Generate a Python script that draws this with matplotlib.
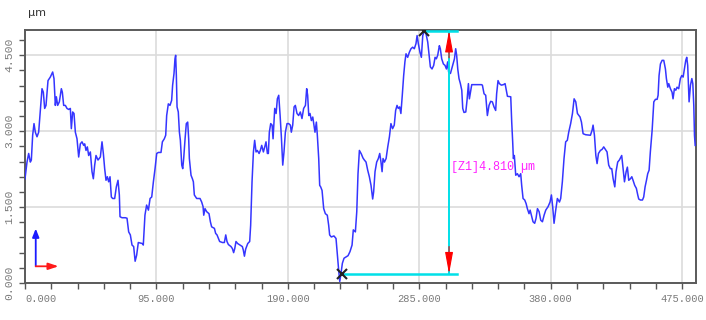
import matplotlib
matplotlib.use("Agg")
import matplotlib.pyplot as plt
from matplotlib.ticker import MultipleLocator, FixedLocator

# ---------------- data (profile, µm) ----------------
pos_um = [
    0, 1.45, 2.65, 3.86, 4.58, 5.54, 6.51, 7.47, 8.68, 9.88,
    11.08, 12.29, 13.25, 14.22, 15.18, 16.63, 18.31, 20.0, 20.96, 21.93,
    22.65, 23.61, 24.82, 26.27, 26.99, 27.95, 29.16, 30.36, 31.57, 32.77,
    33.49, 34.46, 35.42, 36.39, 37.59, 38.8, 40.0, 41.2, 42.41, 43.13,
    44.1, 45.06, 46.02, 47.23, 48.43, 49.4, 50.36, 51.33, 52.77, 54.46,
    55.66, 56.63, 57.59, 58.55, 59.52, 60.48, 61.45, 62.41, 63.37, 64.82,
    66.02, 67.23, 68.19, 68.67, 70.12, 72.53, 73.73, 74.94, 76.14, 77.35,
    78.55, 79.6, 80.7, 81.9, 84.8, 85.5, 86.7, 87.9, 89.2, 90.4,
    91.6, 92.8, 94.0, 95.2, 96.4, 98.3, 99.3, 100.7, 101.7, 102.4,
    103.6, 104.8, 106.0, 106.7, 107.7, 108.4, 108.9, 109.4, 109.9, 110.8,
    111.6, 112.3, 113.3, 114.0, 114.7, 115.7, 116.6, 117.6, 118.3, 118.8,
    120.0, 121.0, 121.7, 122.4, 124.1, 126.5, 127.7, 128.7, 129.2, 130.1,
    131.3, 133.0, 134.0, 134.9, 136.9, 137.8, 138.8, 139.8, 140.7, 142.7,
    144.1, 145.1, 146.0, 147.0, 148.9, 149.9, 150.8, 151.6, 152.5, 153.7,
    155.4, 157.1, 157.8, 158.6, 159.5, 161.0, 162.4, 163.1, 164.1, 165.1,
    166.0, 167.0, 167.9, 169.2, 170.1, 171.1, 172.3, 173.3, 174.2, 175.2,
    175.9, 176.6, 177.6, 178.6, 179.3, 180.5, 181.5, 182.4, 183.4, 184.4,
    185.3, 186.3, 187.2, 188.2, 189.4, 190.6, 191.8, 192.5, 193.5, 194.5,
    195.4, 196.6, 197.8, 199.0, 200.2, 201.4, 202.7, 203.6, 204.3, 205.1,
    206.0, 207.0, 208.0, 208.7, 209.6, 210.6, 211.3, 212.3, 213.0, 213.7,
    214.7, 215.9, 217.1, 218.5, 219.5, 220.2, 221.4, 223.3, 224.8, 225.8,
    226.7, 227.5, 228.4, 229.4, 230.6, 232.3, 233.5, 234.9, 236.4, 237.3,
    238.8, 239.8, 240.7, 241.7, 243.1, 244.3, 245.3, 246.5, 247.7, 248.9,
    250.1, 251.3, 252.0, 253.0, 254.2, 255.4, 256.4, 257.3, 258.1, 258.8,
    259.8, 261.0, 262.2, 263.4, 264.5, 265.7, 266.9, 267.9, 268.9, 269.8,
    270.8, 271.7, 272.7, 273.7, 274.6, 275.4, 276.6, 277.8, 279.0, 280.2,
    281.4, 282.6, 283.4, 284.3, 285.5, 286.5, 287.5, 288.7, 289.9, 291.1,
    292.3, 293.0, 294.2, 295.4, 296.4, 297.3, 298.3, 299.5, 300.2, 301.2,
    302.4, 303.6, 304.6, 305.5, 306.2, 307.5, 308.4, 309.4, 310.4, 311.3,
    312.0, 312.8, 313.7, 314.7, 315.7, 316.4, 317.3, 318.6, 319.5, 320.5,
    321.2, 322.0, 322.9, 326.0, 329.9, 330.6, 331.8, 333.0, 334.2, 335.4,
    336.6, 337.8, 339.0, 340.2, 340.9, 341.9, 342.9, 344.3, 345.8, 347.0,
    347.9, 348.7, 351.1, 351.8, 352.5, 353.0, 353.7, 354.7, 355.9, 357.1,
    358.3, 359.0, 360.0, 361.2, 362.2, 363.1, 364.3, 365.1, 366.0, 367.2,
    368.4, 369.4, 370.4, 371.6, 372.8, 374.0, 375.2, 376.4, 378.1, 379.5,
    380.5, 381.4, 382.4, 383.6, 384.8, 386.3, 387.2, 388.4, 389.6, 390.8,
    392.0, 393.0, 394.4, 395.7, 396.9, 398.1, 399.3, 401.2, 402.2, 403.4,
    405.3, 408.7, 409.9, 410.6, 411.6, 412.6, 413.5, 414.5, 415.9, 417.1,
    418.3, 419.5, 420.7, 421.9, 423.1, 424.1, 425.1, 426.3, 427.2, 428.4,
    429.6, 431.3, 432.3, 433.3, 434.5, 435.4, 436.4, 437.6, 438.6, 439.5,
    440.7, 441.9, 442.9, 443.6, 444.8, 446.3, 447.2, 448.2, 449.2, 450.1,
    451.1, 452.0, 453.3, 454.5, 455.7, 456.9, 457.6, 458.3, 459.3, 460.5,
    461.7, 462.9, 463.6, 464.6, 465.3, 466.5, 467.7, 468.4, 469.4, 470.4,
    471.3, 472.5, 473.7, 474.7, 475.7, 476.6, 477.6, 478.3, 479.0, 480.0,
    481.0, 482.0, 482.7, 483.4, 483.9, 484.4,
]
height_um = [
    2.06, 2.39, 2.56, 2.39, 2.43, 2.92, 3.15, 2.98, 2.89, 2.98,
    3.41, 3.84, 3.77, 3.45, 3.51, 4.00, 4.07, 4.17, 4.04, 3.51,
    3.68, 3.51, 3.58, 3.84, 3.77, 3.51, 3.51, 3.45, 3.43, 3.45,
    3.05, 3.38, 3.35, 2.98, 2.85, 2.49, 2.75, 2.79, 2.72, 2.75,
    2.62, 2.69, 2.52, 2.59, 2.20, 2.06, 2.33, 2.52, 2.43, 2.49,
    2.79, 2.56, 2.26, 2.03, 2.10, 2.00, 2.10, 1.70, 1.67, 1.67,
    1.90, 2.03, 1.74, 1.31, 1.29, 1.29, 1.28, 1.01, 0.95, 0.75,
    0.72, 0.43, 0.55, 0.80, 0.78, 0.75, 1.34, 1.54, 1.44, 1.67,
    1.70, 2.00, 2.26, 2.56, 2.58, 2.58, 2.79, 2.85, 2.92, 3.31,
    3.54, 3.51, 3.61, 3.91, 4.14, 4.43, 4.50, 4.10, 3.48, 3.38,
    2.98, 2.82, 2.33, 2.26, 2.46, 2.85, 3.15, 3.18, 2.85, 2.46,
    2.13, 2.06, 2.00, 1.74, 1.67, 1.67, 1.60, 1.51, 1.34, 1.47,
    1.41, 1.37, 1.21, 1.11, 1.08, 0.98, 0.95, 0.88, 0.82, 0.80,
    0.80, 0.95, 0.82, 0.76, 0.72, 0.68, 0.60, 0.68, 0.82, 0.78,
    0.75, 0.72, 0.65, 0.53, 0.67, 0.78, 0.82, 1.14, 2.00, 2.59,
    2.82, 2.59, 2.62, 2.56, 2.62, 2.72, 2.59, 2.69, 2.79, 2.56,
    2.56, 2.98, 3.15, 3.12, 2.85, 3.45, 3.35, 3.64, 3.71, 3.31,
    2.89, 2.33, 2.59, 2.98, 3.15, 3.15, 3.12, 2.98, 3.12, 3.48,
    3.51, 3.35, 3.31, 3.38, 3.25, 3.45, 3.51, 3.84, 3.71, 3.31,
    3.35, 3.21, 3.28, 3.15, 2.98, 3.18, 2.92, 2.46, 1.93, 1.90,
    1.83, 1.47, 1.37, 1.34, 1.14, 0.95, 0.91, 0.93, 0.88, 0.55,
    0.26, 0.03, 0.19, 0.39, 0.49, 0.52, 0.54, 0.62, 0.75, 1.05,
    1.01, 1.41, 2.16, 2.62, 2.55, 2.47, 2.43, 2.39, 2.23, 2.10,
    1.93, 1.66, 1.80, 2.20, 2.39, 2.46, 2.56, 2.39, 2.20, 2.46,
    2.39, 2.46, 2.69, 2.89, 3.15, 3.05, 3.12, 3.41, 3.51, 3.45,
    3.48, 3.35, 3.71, 4.10, 4.37, 4.53, 4.46, 4.56, 4.63, 4.66,
    4.63, 4.73, 4.89, 4.73, 4.56, 4.46, 4.89, 4.99, 4.92, 4.76,
    4.46, 4.27, 4.23, 4.30, 4.46, 4.43, 4.50, 4.69, 4.63, 4.43,
    4.33, 4.30, 4.23, 4.37, 4.17, 4.14, 4.23, 4.33, 4.43, 4.63,
    4.50, 4.23, 4.04, 3.94, 3.81, 3.45, 3.37, 3.38, 3.61, 3.94,
    3.64, 3.77, 3.92, 3.92, 3.92, 3.91, 3.74, 3.71, 3.31, 3.51,
    3.59, 3.58, 3.48, 3.41, 3.74, 4.00, 3.94, 3.91, 3.92, 3.94,
    3.81, 3.69, 3.68, 3.18, 2.79, 2.46, 2.52, 2.13, 2.16, 2.10,
    2.16, 1.93, 1.67, 1.64, 1.57, 1.47, 1.37, 1.44, 1.34, 1.21,
    1.18, 1.28, 1.47, 1.41, 1.24, 1.21, 1.34, 1.44, 1.51, 1.60,
    1.74, 1.51, 1.18, 1.44, 1.67, 1.60, 1.67, 2.00, 2.46, 2.79,
    2.82, 2.98, 3.15, 3.35, 3.64, 3.58, 3.35, 3.28, 3.18, 2.95,
    2.93, 2.92, 3.02, 3.12, 2.92, 2.52, 2.36, 2.56, 2.62, 2.64,
    2.69, 2.64, 2.59, 2.33, 2.26, 2.26, 2.06, 1.90, 2.20, 2.39,
    2.43, 2.52, 2.26, 2.00, 2.20, 2.29, 2.03, 2.06, 2.10, 2.03,
    1.93, 1.87, 1.74, 1.66, 1.64, 1.64, 1.70, 1.90, 2.03, 2.16,
    2.23, 2.59, 3.02, 3.58, 3.63, 3.63, 3.71, 4.10, 4.33, 4.40,
    4.40, 4.23, 4.04, 3.87, 3.94, 3.84, 3.77, 3.64, 3.84, 3.81,
    3.87, 3.84, 4.04, 4.10, 4.07, 4.23, 4.40, 4.46, 4.30, 3.58,
    3.91, 4.04, 3.94, 3.51, 2.92, 2.72,
]

x_ticks = [0, 95, 190, 285, 380, 475]
x_tick_labels = ["0.000", "95.000", "190.000", "285.000", "380.000", "475.000"]
y_ticks = [0, 1.5, 3.0, 4.5]
y_tick_labels = ["0.000", "1.500", "3.000", "4.500"]

# measurement cursor (Z1)
valley_x, valley_y = 229.2, 0.18
peak_x, peak_y = 288.7, 4.99
cursor_x = 306.5
cursor_end_x = 312.3
z_label = "[Z1]4.810 µm"

# ---------------- figure ----------------
W, H = 706, 320
fig = plt.figure(figsize=(W / 100, H / 100), dpi=100)
ax = fig.add_axes([25 / W, 1 - 283 / H, 671 / W, 253 / H])

ax.plot(pos_um, height_um, color="#3535ff", lw=1.1, zorder=3)

ax.set_xlim(0, 485)
ax.set_ylim(0, 5.0)

ax.xaxis.set_major_locator(FixedLocator(x_ticks))
ax.xaxis.set_minor_locator(MultipleLocator(19))
ax.yaxis.set_major_locator(FixedLocator(y_ticks))
ax.yaxis.set_minor_locator(MultipleLocator(0.3))
ax.set_xticklabels(x_tick_labels)
ax.set_yticklabels(y_tick_labels)

for lab in ax.get_xticklabels():
    lab.set_fontfamily("Liberation Mono")
    lab.set_fontsize(7.5)
    lab.set_color("#7a7a7a")
for lab in ax.get_yticklabels():
    lab.set_fontfamily("Liberation Mono")
    lab.set_fontsize(8.2)
    lab.set_color("#7a7a7a")
    lab.set_rotation(90)
    lab.set_verticalalignment("center")
ax.get_xticklabels()[0].set_horizontalalignment("left")

ax.tick_params(axis="both", which="both", direction="out", color="#555555",
               width=1.0)
ax.tick_params(axis="x", which="both", length=4.5, pad=3.5)
ax.tick_params(axis="y", which="both", length=4, pad=4)

ax.grid(True, which="major", color="#dcdcdc", lw=1.2, zorder=0)
ax.set_axisbelow(True)
for s in ax.spines.values():
    s.set_color("#5a5a5a")
    s.set_linewidth(1.4)

# unit label
fig.text(28 / W, 1 - 13 / H, "µm", fontsize=8, color="#333333",
         ha="left", va="center", family="DejaVu Sans")

# measurement overlay
cyan = "#00e0e8"
ax.plot([peak_x, cursor_end_x], [peak_y, peak_y], color=cyan, lw=1.8,
        zorder=5, clip_on=False)
ax.plot([valley_x, cursor_end_x], [valley_y, valley_y], color=cyan, lw=1.8,
        zorder=5)
ax.plot([cursor_x, cursor_x], [valley_y, peak_y], color=cyan, lw=1.4,
        zorder=5, clip_on=False)
arrow_kw = dict(arrowstyle="-|>,head_length=1.2,head_width=0.22",
                color="red", lw=0.8, mutation_scale=11, shrinkA=0, shrinkB=0)
ax.annotate("", xy=(cursor_x, peak_y), xytext=(cursor_x, 4.45),
            arrowprops=arrow_kw, zorder=6, annotation_clip=False)
ax.annotate("", xy=(cursor_x, valley_y), xytext=(cursor_x, 0.72),
            arrowprops=arrow_kw, zorder=6)
ax.plot([valley_x], [valley_y], marker="x", ms=7, mew=1.5, color="#222222",
        zorder=7)
ax.plot([peak_x], [peak_y], marker="x", ms=7, mew=1.5, color="#222222",
        zorder=7, clip_on=True)
ax.text(cursor_x + 1.5, 2.29, z_label, color="#ff22ff", fontsize=8.5,
        family="Liberation Mono", ha="left", va="center", zorder=6)

# axis direction indicator (lower left)
ax.annotate("", xy=(0.016, 0.215), xytext=(0.016, 0.066),
            xycoords="axes fraction", textcoords="axes fraction",
            arrowprops=dict(arrowstyle="-|>,head_length=0.5,head_width=0.2",
                            color="#1a1aff", lw=1.3, mutation_scale=10,
                            shrinkA=0, shrinkB=0))
ax.annotate("", xy=(0.050, 0.066), xytext=(0.016, 0.066),
            xycoords="axes fraction", textcoords="axes fraction",
            arrowprops=dict(arrowstyle="-|>,head_length=0.6,head_width=0.2",
                            color="#ff1a1a", lw=1.3, mutation_scale=10,
                            shrinkA=0, shrinkB=0))

fig.savefig("out.png", dpi=100, facecolor="white")
